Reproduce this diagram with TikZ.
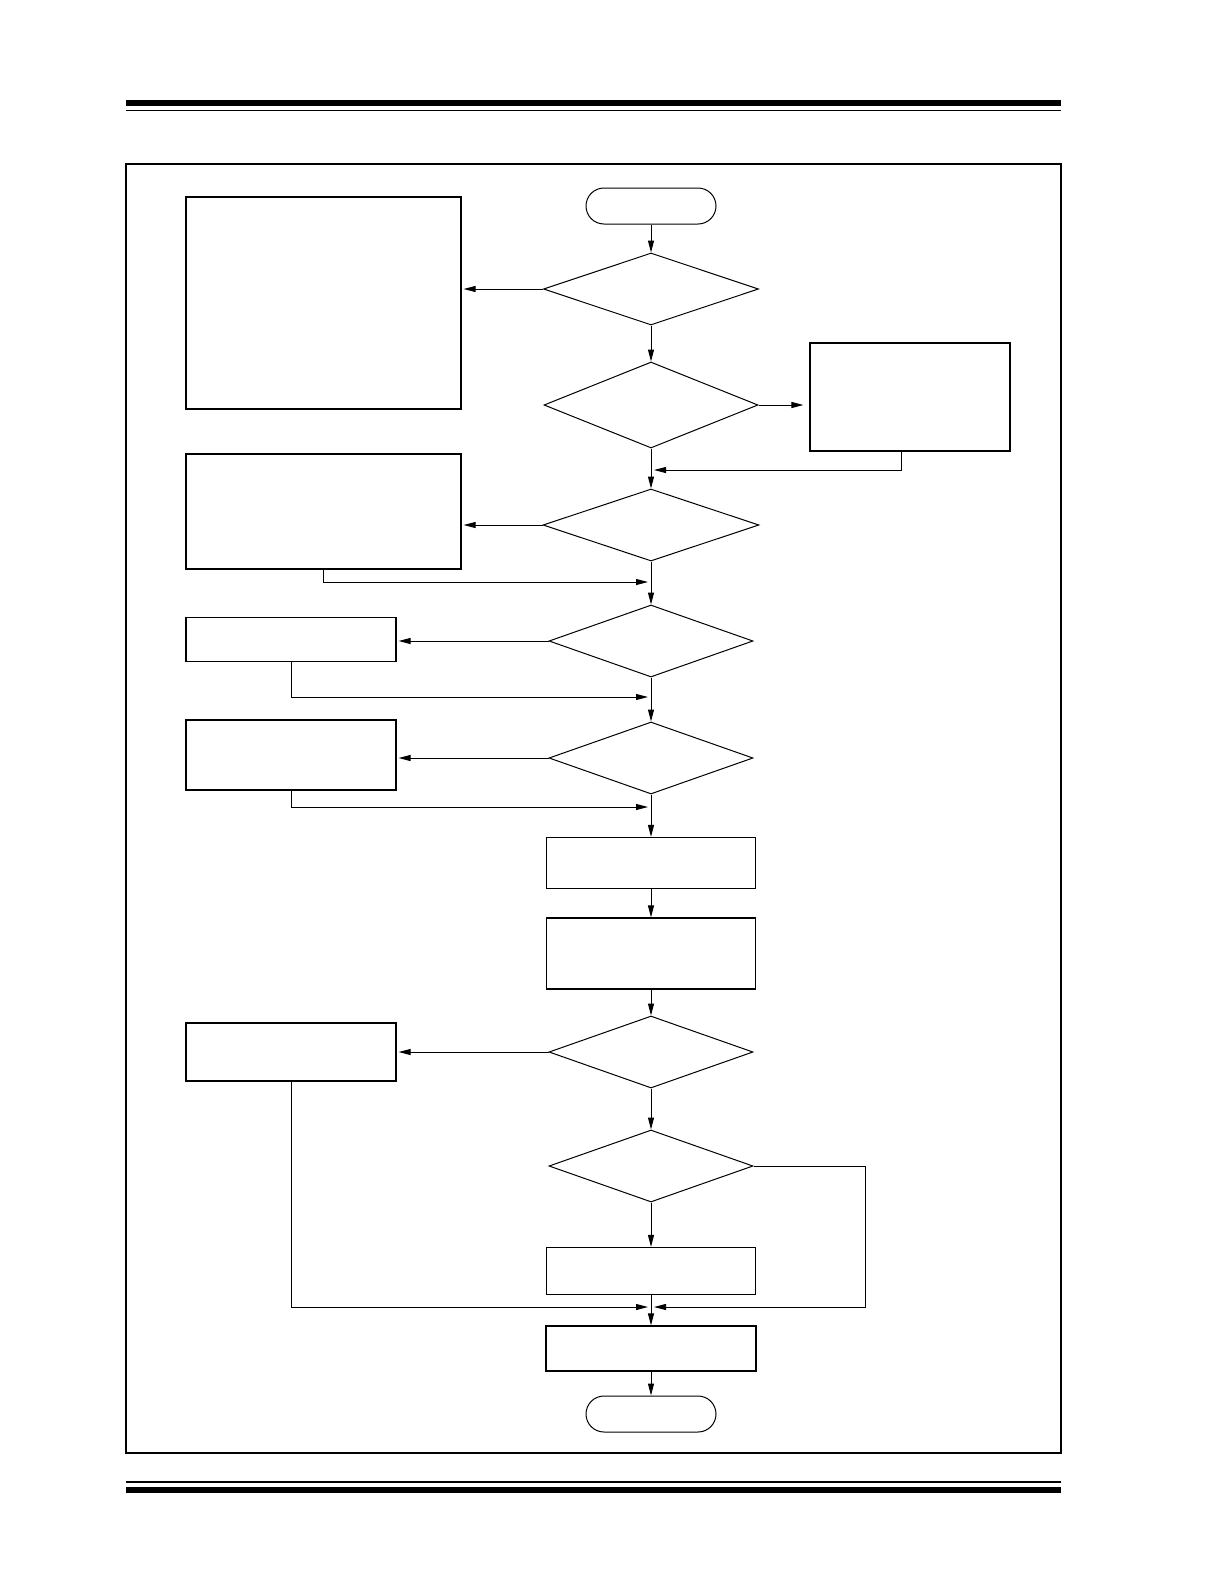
\documentclass[tikz,border=0pt]{standalone}
\usetikzlibrary{shapes.geometric,arrows.meta}
\begin{document}
\begin{tikzpicture}[x=0.5pt,y=-0.5pt,
	box/.style={draw,line width=0.6pt,rectangle,inner sep=0pt},
	term/.style={draw,line width=0.5pt,rectangle,rounded corners=9pt,minimum width=65pt,minimum height=18pt,inner sep=0pt},
	choice/.style={draw,line width=0.5pt,diamond,inner sep=0pt,minimum width=102pt,minimum height=36pt},
	link/.style={line width=0.5pt,-{Triangle[length=6pt,width=3pt]}},
	merge/.style={link,shorten >=1.5pt}]
	\useasboundingbox (0,0) rectangle (1225,1585);
	% page rules and frame
	\draw[line width=3pt] (126,103) -- (1061,103);
	\draw[line width=0.75pt] (126,110.5) -- (1061,110.5);
	\draw[line width=1pt] (126,1482) -- (1061,1482);
	\draw[line width=3pt] (126,1490) -- (1061,1490);
	\draw[line width=0.75pt] (126,164) rectangle (1061,1453);

	\node[term] (start) at (651,206) {};
	\node[choice,minimum width=107.5pt] (q1) at (651,289) {};
	\node[box,minimum width=137.5pt,minimum height=106pt] (setup) at (323.5,303) {};
	\node[choice,minimum width=107pt,minimum height=43pt] (q2) at (651,405) {};
	\node[box,minimum width=100pt,minimum height=54pt] (side) at (910,397) {};
	\node[choice,minimum width=108pt] (q3) at (651,525) {};
	\node[box,minimum width=137.5pt,minimum height=57.5pt] (cfg) at (323.5,511.5) {};
	\node[choice] (q4) at (651,641) {};
	\node[box,minimum width=105pt,minimum height=22pt] (opta) at (291,639.5) {};
	\node[choice] (q5) at (651,758) {};
	\node[box,minimum width=105pt,minimum height=35pt] (optb) at (291,755) {};
	\node[box,minimum width=104.5pt,minimum height=25.5pt] (stepa) at (651,863) {};
	\node[box,minimum width=104.5pt,minimum height=35.5pt] (stepb) at (651,953.5) {};
	\node[choice] (q6) at (651,1052) {};
	\node[box,minimum width=105pt,minimum height=29pt] (optc) at (291,1052) {};
	\node[choice] (q7) at (651,1166) {};
	\node[box,minimum width=104.5pt,minimum height=23.5pt] (stepc) at (651,1271) {};
	\node[box,minimum width=105pt,minimum height=22.5pt] (stepd) at (651,1348.5) {};
	\node[term] (stop) at (651,1414) {};

	\coordinate (m2) at (651,470);
	\coordinate (m3) at (651,582);
	\coordinate (m4) at (651,697);
	\coordinate (m5) at (651,807);
	\coordinate (m7) at (651,1307);
	\coordinate (loop) at (865,1166);

	\draw[link] (start) -- (q1);
	\draw[link,shorten >=1pt] (q1.west) -- (setup.east |- q1.west);
	\draw[link] (q1) -- (q2);
	\draw[link,shorten >=3pt] (q2.east) -- (side.west |- q2.east);
	\draw[link] (q2) -- (q3);
	\draw[merge] ([xshift=-4.5pt]side.south) |- (m2);
	\draw[link,shorten >=1pt] (q3.west) -- (cfg.east |- q3.west);
	\draw[link] (q3) -- (q4);
	\draw[merge] (cfg.south) |- (m3);
	\draw[link,shorten >=1pt] (q4.west) -- (opta.east |- q4.west);
	\draw[link] (q4) -- (q5);
	\draw[merge] (opta.south) |- (m4);
	\draw[link,shorten >=1pt] (q5.west) -- (optb.east |- q5.west);
	\draw[link] (q5) -- (stepa);
	\draw[merge] (optb.south) |- (m5);
	\draw[link] (stepa) -- (stepb);
	\draw[link] (stepb) -- (q6);
	\draw[link,shorten >=1pt] (q6.west) -- (optc.east |- q6.west);
	\draw[link] (q6) -- (q7);
	\draw[link] (q7) -- (stepc);
	\draw[merge] (optc.south) |- (m7);
	\draw[merge] (q7.east) -- (loop) |- (m7);
	\draw[link] (stepc) -- (stepd);
	\draw[link] (stepd) -- (stop);
\end{tikzpicture}
\end{document}
